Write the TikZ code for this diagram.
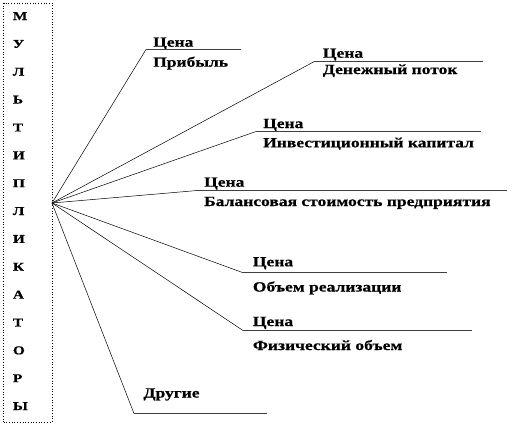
\documentclass[tikz,border=0pt]{standalone}
\usepackage{fontspec}
\newfontfamily\labfont{Liberation Serif}[FakeStretch=1.25,BoldFeatures={FakeBold=0.6}]
\newfontfamily\letfont{Liberation Serif}[FakeStretch=1.28,BoldFeatures={FakeBold=0.6}]
\begin{document}
\begin{tikzpicture}[x=1pt,y=-1pt,
  lab/.style={anchor=base west,inner sep=0pt,font=\labfont\bfseries\fontsize{14}{16}\selectfont},
  letter/.style={anchor=base west,inner sep=0pt,font=\letfont\bfseries\fontsize{12}{14}\selectfont},
  spoke/.style={line width=0.5pt,black},
  shelf/.style={line width=0.9pt,black!75}]
\useasboundingbox (0,0) rectangle (522,426);
\node[draw,dotted,line width=0.7pt,minimum width=48.4pt,minimum height=419pt,inner sep=0pt,anchor=north west] (box) at (3.3,2.7) {};
\foreach \t [count=\i from 0] in {М,У,Л,Ь,Т,И,П,Л,И,К,А,Т,О,Р,Ы}
  \node[letter] (l\i) at (12.7,20+27.86*\i) {\t};
\coordinate (hub) at (52,203);
% 1
\coordinate (s1) at (146,49.5); \coordinate (e1) at (241,49.5);
\node[lab] (c1) at (153,46.7) {Цена};
\node[lab] (n1) at (153,66.7) {Прибыль};
% 2
\coordinate (s2) at (314,61.7); \coordinate (e2) at (483,61.7);
\node[lab] (c2) at (322.7,57.7) {Цена};
\node[lab] (n2) at (322.7,74) {Денежный поток};
% 3
\coordinate (s3) at (256,131.5); \coordinate (e3) at (481,131.5);
\node[lab] (c3) at (263,128) {Цена};
\node[lab] (n3) at (263,147.3) {Инвестиционный капитал};
% 4
\coordinate (s4) at (195,190.7); \coordinate (e4) at (507,190.7);
\node[lab] (c4) at (204,186.7) {Цена};
\node[lab] (n4) at (204,206) {Балансовая стоимость предприятия};
% 5
\coordinate (s5) at (243,272.7); \coordinate (e5) at (447,272.7);
\node[lab] (c5) at (252.7,266.3) {Цена};
\node[lab] (n5) at (252.7,291.5) {Объем реализации};
% 6
\coordinate (s6) at (243,330.5); \coordinate (e6) at (472,330.5);
\node[lab] (c6) at (252.7,326) {Цена};
\node[lab] (n6) at (252.7,350) {Физический объем};
% 7
\coordinate (s7) at (134,413.5); \coordinate (e7) at (267,413.5);
\node[lab] (n7) at (143.3,397.5) {Другие};
\foreach \k in {1,...,7}{
  \draw[spoke] (hub) -- (s\k);
  \draw[shelf] (s\k) -- (e\k);
}
\end{tikzpicture}
\end{document}
